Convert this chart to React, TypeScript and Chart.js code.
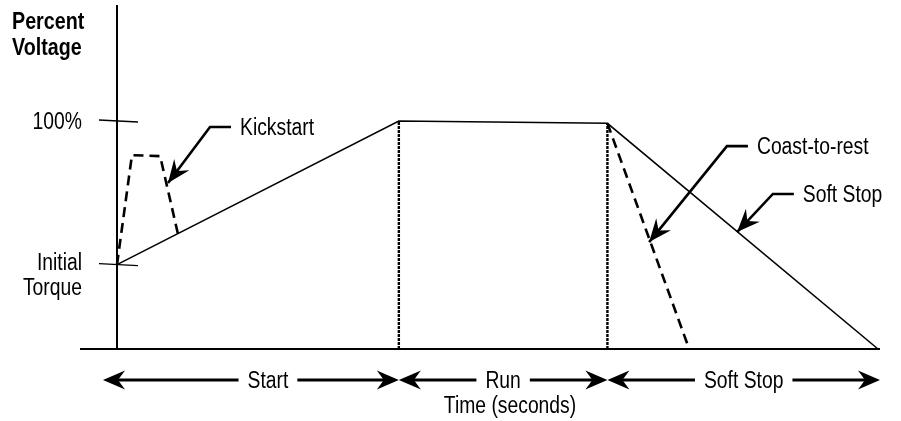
import React, { useEffect, useRef } from "react";
import { Chart, registerables } from "chart.js";

Chart.register(...registerables);

// ---- data ----
const rampTime = [0, 10, 17.4, 27];
const rampVolt = [37, 100, 99, 0];
const kickTime = [0, 0.53, 1.53, 2.16];
const kickVolt = [37, 85, 84.6, 50.6];
const coastTime = [17.4, 20.3];
const coastVolt = [99, 0];
const phaseBounds = [0, 10, 17.4, 27];
const phaseLabels = ["Start", "Run", "Soft Stop"];
const yTickValues = [100, 37];
const yTickLabels = [["100%"], ["Initial", "Torque"]];
const yTitle = ["Percent", "Voltage"];
const xTitle = "Time (seconds)";
const calloutText = ["Kickstart", "Coast-to-rest", "Soft Stop"];
const calloutTipTime = [1.81, 18.88, 22.0];
const calloutTipVolt = [72.8, 46.9, 51.3];
const calloutElbowTime = [3.3, 21.64, 23.27];
const calloutElbowVolt = [97.4, 89.0, 68.0];

const pts = (xs: number[], ys: number[]) => xs.map((x, i) => ({ x, y: ys[i] }));

const FONT = '"Liberation Sans", Arial, sans-serif';
const FS = 23;
const SX = 0.84;

function drawText(ctx: CanvasRenderingContext2D, s: string, x: number, y: number, align: CanvasTextAlign, bold = false) {
  ctx.save();
  ctx.font = `${bold ? "bold " : ""}${FS}px ${FONT}`;
  ctx.fillStyle = "#000";
  ctx.textBaseline = "alphabetic";
  ctx.translate(x, y);
  ctx.scale(bold ? SX * 1.02 : SX, 1);
  ctx.textAlign = align;
  ctx.fillText(s, 0, 0);
  ctx.restore();
}

function textWidth(ctx: CanvasRenderingContext2D, s: string) {
  ctx.save();
  ctx.font = `${FS}px ${FONT}`;
  const w = ctx.measureText(s).width * SX;
  ctx.restore();
  return w;
}

function arrowHead(ctx: CanvasRenderingContext2D, tx: number, ty: number, fx: number, fy: number, len: number, hw: number, notch: number) {
  const dx = tx - fx, dy = ty - fy;
  const d = Math.hypot(dx, dy) || 1;
  const ux = dx / d, uy = dy / d;
  const nx = -uy, ny = ux;
  ctx.beginPath();
  ctx.moveTo(tx, ty);
  ctx.lineTo(tx - ux * len + nx * hw, ty - uy * len + ny * hw);
  ctx.lineTo(tx - ux * (len - notch), ty - uy * (len - notch));
  ctx.lineTo(tx - ux * len - nx * hw, ty - uy * len - ny * hw);
  ctx.closePath();
  ctx.fill();
}

const diagramPlugin = {
  id: "diagram",
  beforeDatasetsDraw(chart: any) {
    const ctx: CanvasRenderingContext2D = chart.ctx;
    const xs = chart.scales.x, ys = chart.scales.y;
    const x0 = xs.getPixelForValue(0);
    const y0 = ys.getPixelForValue(0);
    ctx.save();
    ctx.strokeStyle = "#000";
    ctx.lineWidth = 2;
    ctx.beginPath();
    ctx.moveTo(x0, 5);
    ctx.lineTo(x0, y0 + 1);
    ctx.moveTo(80, y0);
    ctx.lineTo(xs.getPixelForValue(phaseBounds[phaseBounds.length - 1]) + 2, y0);
    ctx.stroke();
    ctx.lineWidth = 1.3;
    yTickValues.forEach((v) => {
      const py = ys.getPixelForValue(v);
      ctx.beginPath();
      ctx.moveTo(x0 - 18, py - 1);
      ctx.lineTo(x0 + 21, py + 1);
      ctx.stroke();
    });
    ctx.restore();
  },
  afterDatasetsDraw(chart: any) {
    const ctx: CanvasRenderingContext2D = chart.ctx;
    const xs = chart.scales.x, ys = chart.scales.y;
    const y0 = ys.getPixelForValue(0);
    ctx.save();
    ctx.fillStyle = "#000";
    ctx.strokeStyle = "#000";

    // y title
    drawText(ctx, yTitle[0], 12, 29, "left", true);
    drawText(ctx, yTitle[1], 12, 55, "left", true);

    // y tick labels
    yTickValues.forEach((v, i) => {
      const py = ys.getPixelForValue(v);
      yTickLabels[i].forEach((s, j) => {
        drawText(ctx, s, 82, py + 8 + j * 25 - (yTickLabels[i].length > 1 ? 3 : 0), "right");
      });
    });

    // callouts
    calloutText.forEach((s, i) => {
      const tx = xs.getPixelForValue(calloutTipTime[i]);
      const ty = ys.getPixelForValue(calloutTipVolt[i]);
      const ex = xs.getPixelForValue(calloutElbowTime[i]);
      const ey = ys.getPixelForValue(calloutElbowVolt[i]);
      ctx.lineWidth = 2.6;
      ctx.beginPath();
      ctx.moveTo(ex + 21, ey);
      ctx.lineTo(ex, ey);
      ctx.lineTo(tx, ty);
      ctx.stroke();
      arrowHead(ctx, tx, ty, ex, ey, 23, 9.5, 8);
      drawText(ctx, s, ex + 30, ey + 8, "left");
    });

    // phase arrows
    const ay = y0 + 31;
    phaseLabels.forEach((s, i) => {
      let l = xs.getPixelForValue(phaseBounds[i]);
      const r = xs.getPixelForValue(phaseBounds[i + 1]) + (i === phaseLabels.length - 1 ? 2 : 0);
      if (i === 0) l -= 14;
      const c = (xs.getPixelForValue(phaseBounds[i]) + r) / 2 + (i === 0 ? 10 : 0);
      const w = textWidth(ctx, s);
      ctx.lineWidth = 3.2;
      ctx.beginPath();
      ctx.moveTo(l + 10, ay);
      ctx.lineTo(c - w / 2 - 9, ay);
      ctx.moveTo(c + w / 2 + 9, ay);
      ctx.lineTo(r - 10, ay);
      ctx.stroke();
      arrowHead(ctx, l, ay, l + 20, ay, 22, 9.5, 7);
      arrowHead(ctx, r, ay, r - 20, ay, 22, 9.5, 7);
      drawText(ctx, s, c, ay + 8, "center");
    });

    // x title
    drawText(ctx, xTitle, 510, y0 + 64, "center");
    ctx.restore();
  },
};

export default function App() {
  const ref = useRef<HTMLCanvasElement | null>(null);
  useEffect(() => {
    if (!ref.current) return;
    const markerSets = [1, 2].map((i) => ({
      data: pts([rampTime[i], rampTime[i]], [0, rampVolt[i]]),
      borderColor: "#000",
      borderWidth: 2.4,
      borderDash: [3, 1],
      pointRadius: 0,
      fill: false,
    }));
    const chart = new Chart(ref.current, {
      type: "line",
      data: {
        datasets: [
          ...markerSets,
          { label: "Soft Start", data: pts(rampTime, rampVolt), borderColor: "#000", borderWidth: 1.6, pointRadius: 0, fill: false, tension: 0 },
          { label: "Kickstart", data: pts(kickTime, kickVolt), borderColor: "#000", borderWidth: 2.6, borderDash: [10, 6], pointRadius: 0, fill: false, tension: 0 },
          { label: "Coast-to-rest", data: pts(coastTime, coastVolt), borderColor: "#000", borderWidth: 2.6, borderDash: [10, 6], pointRadius: 0, fill: false, tension: 0 },
        ] as any,
      },
      options: {
        animation: false,
        responsive: false,
        events: [],
        layout: { padding: 0 },
        plugins: { legend: { display: false }, tooltip: { enabled: false }, title: { display: false } },
        scales: {
          x: { type: "linear", min: -4.151, max: 27.816, display: false },
          y: { type: "linear", min: -31.58, max: 153.07, display: false },
        },
      },
      plugins: [diagramPlugin],
    });
    return () => chart.destroy();
  }, []);
  return (
    <div style={{ position: "absolute", left: 0, top: 0, width: 901, height: 421, background: "#fff" }}>
      <canvas ref={ref} width={901} height={421} style={{ display: "block" }} />
    </div>
  );
}
